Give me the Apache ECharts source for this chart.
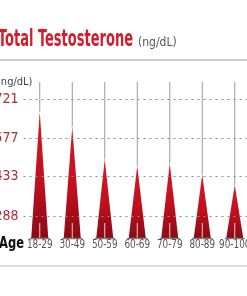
<!DOCTYPE html>
<html><head><meta charset="utf-8">
<script src="https://cdn.jsdelivr.net/npm/echarts@6/dist/echarts.min.js"></script>
<style>html,body{margin:0;padding:0;background:#fff}#c{width:247px;height:296px}</style>
</head><body><div id="c"></div>
<script>
const categories = ['18-29','30-49','50-59','60-69','70-79','80-89','90-100'];
const values = [674, 618, 497, 474, 482, 441, 402];
const tickValues = [288, 433, 577, 721];
const yMin = 206, yMax = 784;

const NARROW = "'Liberation Sans Narrow','DejaVu Sans Condensed','Arial Narrow',sans-serif";
const chart = echarts.init(document.getElementById('c'));
const grad = new echarts.graphic.LinearGradient(0,0,0,1,[
  {offset:0,color:'#d8182a'},{offset:0.55,color:'#c0101e'},{offset:1,color:'#8a0b15'}]);

chart.setOption({
  animation:false,
  grid:{left:23.5,top:82,right:-4,bottom:58,outerBoundsMode:'none',containLabel:false},
  xAxis:{type:'category',data:categories,
    axisLine:{show:false},axisTick:{show:false},axisLabel:{show:false}},
  yAxis:{type:'value',min:yMin,max:yMax,show:true,
    axisLine:{show:false},axisTick:{show:false},axisLabel:{show:false},splitLine:{show:false}},
  graphic:[
    {type:'text',x:-2,y:40,scaleX:0.63,style:{text:'Total Testosterone',fill:'#cf1f2e',font:"bold 23px "+NARROW,textVerticalAlign:'middle'}},
    {type:'text',x:138,y:43,style:{text:'(ng/dL)',fill:'#555',font:"12px 'DejaVu Sans Condensed',sans-serif",textVerticalAlign:'middle'}},
    {type:'line',shape:{x1:0,y1:60,x2:247,y2:60},style:{stroke:'#bdbdbd',lineWidth:1.5}},
    {type:'text',x:-3,y:82,style:{text:'(ng/dL)',fill:'#444',font:"11px 'DejaVu Sans Condensed',sans-serif",textVerticalAlign:'middle'}},
    {type:'text',x:-1,y:244,scaleX:0.8,style:{text:'Age',fill:'#111',font:"bold 16px "+NARROW,textVerticalAlign:'middle'}},
    {type:'line',shape:{x1:0,y1:266,x2:247,y2:266},style:{stroke:'#cfcfcf',lineWidth:1.5}}
  ],
  series:[{
    type:'custom',
    data:values.map((v,i)=>[i,v]),
    renderItem:function(params,api){
      const i=api.value(0), v=api.value(1);
      const top=api.coord([i,v]);
      const base=api.coord([i,yMin]);
      const gTop=params.coordSys.y;
      const w=17;
      return {type:'group',children:[
        {type:'line',shape:{x1:top[0],y1:gTop,x2:top[0],y2:top[1]},style:{stroke:'#9a9a9a',lineWidth:1}},
        {type:'polygon',shape:{points:[[top[0],top[1]],[top[0]-w/2,base[1]],[top[0]+w/2,base[1]]]},style:{fill:grad}},
        {type:'line',shape:{x1:top[0],y1:base[1]-15,x2:top[0],y2:base[1]},style:{stroke:'#f1c9cc',lineWidth:1}},
        {type:'line',shape:{x1:top[0]-10,y1:base[1]+0.5,x2:top[0]+10,y2:base[1]+0.5},style:{stroke:'#7a7a7a',lineWidth:1.5}},
        {type:'text',x:top[0],y:base[1]+7,scaleX:0.82,style:{text:categories[i],x:0,y:0,fill:'#555',font:"12px "+NARROW,textAlign:'center',textVerticalAlign:'middle'}}
      ]};
    },
    markLine:{silent:true,symbol:'none',animation:false,
      lineStyle:{color:'#8a8a8a',type:[2,4],width:1},
      label:{position:'start',distance:5,color:'#b12a35',fontSize:14,fontFamily:NARROW,formatter:p=>String(p.value)},
      data:tickValues.map(t=>({yAxis:t}))},
    z:3
  }]
});
</script></body></html>
